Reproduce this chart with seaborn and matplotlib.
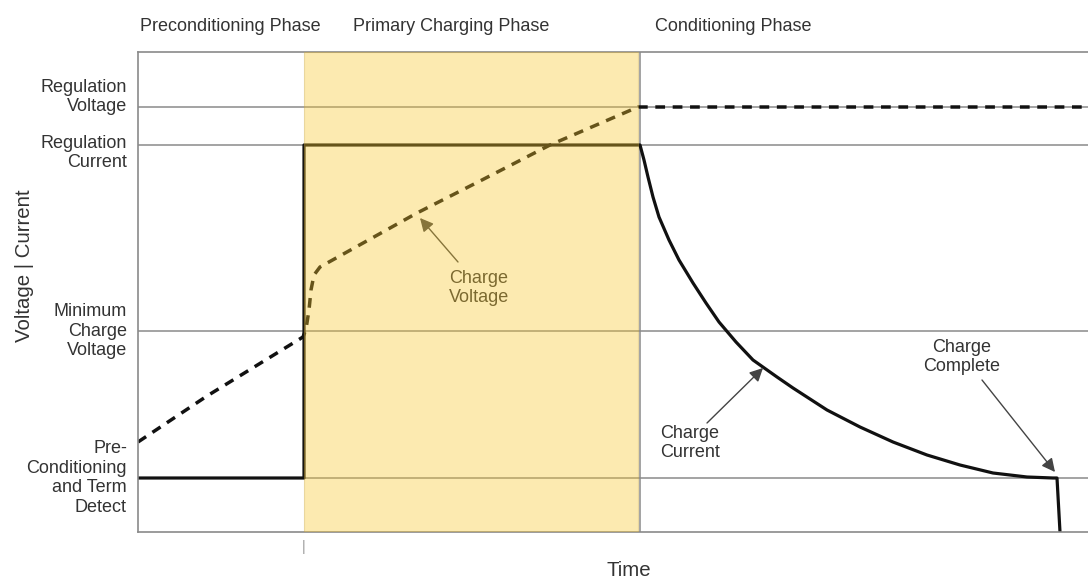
import matplotlib
matplotlib.use("Agg")
import matplotlib.pyplot as plt
import seaborn as sns

# time axis is in arbitrary units
phase_names = ["Preconditioning Phase", "Primary Charging Phase", "Conditioning Phase"]
phase_label_x = [0.2, 21.5, 51.7]
precond_end = 16.6
primary_end = 50.0
conditioning_start = 50.2

level_values = [42.5, 38.7, 20.1, 5.4]
level_labels = ["Regulation\nVoltage", "Regulation\nCurrent",
                "Minimum\nCharge\nVoltage", "Pre-\nConditioning\nand Term\nDetect"]
level_nudge = [7.2, -5.8, 0.0, 0.0]  # vertical offset of each label, points

current_t = [0, 16.6, 16.6, 50.2, 50.6, 51.0, 51.5, 52.1, 53.1, 54.1, 55.5, 56.8,
             58.1, 59.8, 61.5, 63.9, 65.5, 68.9, 72.2, 75.5, 78.9, 82.2, 85.5,
             88.9, 91.5, 91.9, 92.2]
current_v = [5.4, 5.4, 38.7, 38.7, 37.2, 35.5, 33.5, 31.5, 29.2, 27.2, 24.9, 22.9,
             21.0, 19.0, 17.2, 15.5, 14.4, 12.2, 10.5, 9.0, 7.7, 6.7, 5.9,
             5.5, 5.4, 5.4, 0.0]

voltage_t = [0, 6.9, 16.5, 16.8, 17.1, 17.3, 17.6, 18.2, 27.9, 34.2, 41.2, 50.0, 95.0]
voltage_v = [9.0, 13.6, 19.5, 20.3, 22.2, 24.2, 25.7, 26.5, 31.9, 35.1, 38.7, 42.5, 42.5]

notes = ["Charge\nVoltage", "Charge\nCurrent", "Charge\nComplete"]
note_text_xy = [(34.1, 24.4), (55.2, 8.9), (82.4, 17.5)]
note_tail_xy = [(32.0, 27.0), (56.9, 10.9), (84.4, 15.2)]
note_tip_xy = [(28.2, 31.4), (62.5, 16.4), (91.7, 6.0)]

sns.set_theme(style="white")
plt.rcParams["font.family"] = ["Liberation Sans", "DejaVu Sans"]

TXT = "#333333"
GRID = "#8a8a8a"

fig = plt.figure(figsize=(10.88, 5.79), dpi=100)
ax = fig.add_axes([138 / 1088, 47 / 579, 950 / 1088, 480 / 579])
ax.set_xlim(0, 95)
ax.set_ylim(0, 48)

# reference levels
for v in level_values:
    ax.axhline(v, color=GRID, lw=1.1, zorder=1)
ax.axvline(conditioning_start, color=GRID, lw=1.1, zorder=1)

# charge current (solid) and charge voltage (dashed)
sns.lineplot(x=current_t, y=current_v, sort=False, estimator=None, ax=ax,
             color="#111111", lw=2.3, zorder=2)
sns.lineplot(x=voltage_t, y=voltage_v, sort=False, estimator=None, ax=ax,
             color="#111111", lw=2.5, zorder=2)
ax.lines[-1].set_dashes((2.8, 2.2))

for label, txy, tail, tip in zip(notes, note_text_xy, note_tail_xy, note_tip_xy):
    ax.text(*txy, label, ha="center", va="center", fontsize=13, color=TXT,
            linespacing=1.18, zorder=2)
    ax.annotate("", xy=tip, xytext=tail,
                arrowprops=dict(arrowstyle="-|>", color="#444444", lw=1.0,
                                mutation_scale=20, shrinkA=0, shrinkB=0),
                zorder=2)

# primary charging phase highlight, drawn over the curves
ax.axvspan(precond_end, primary_end, facecolor="#F9C82B", alpha=0.37,
           edgecolor="#c9a640", lw=0.8, zorder=3)

for name, x in zip(phase_names, phase_label_x):
    ax.text(x, 1.054, name, transform=ax.get_xaxis_transform(), ha="left",
            va="center", fontsize=13, color=TXT)

ax.set_yticks([])
for v, lab, dy in zip(level_values, level_labels, level_nudge):
    ax.annotate(lab, xy=(0, v), xycoords=("axes fraction", "data"),
                xytext=(-8, dy), textcoords="offset points", ha="right",
                va="center", fontsize=13, color=TXT, linespacing=1.18)

ax.set_xticks([precond_end])
ax.set_xticklabels(["|"], fontsize=10, color="#999999")
ax.tick_params(axis="x", length=0, pad=6)

ax.set_xlabel("Time", fontsize=14.7, color=TXT)
ax.xaxis.set_label_coords(0.517, -0.06)
ax.set_ylabel("Voltage | Current", fontsize=14.7, color=TXT)
ax.yaxis.set_label_coords(-0.11, 0.554)

for side in ["left", "top", "bottom"]:
    ax.spines[side].set_color(GRID)
    ax.spines[side].set_linewidth(1.2)
ax.spines["right"].set_visible(False)

fig.savefig("out.png", dpi=100)
